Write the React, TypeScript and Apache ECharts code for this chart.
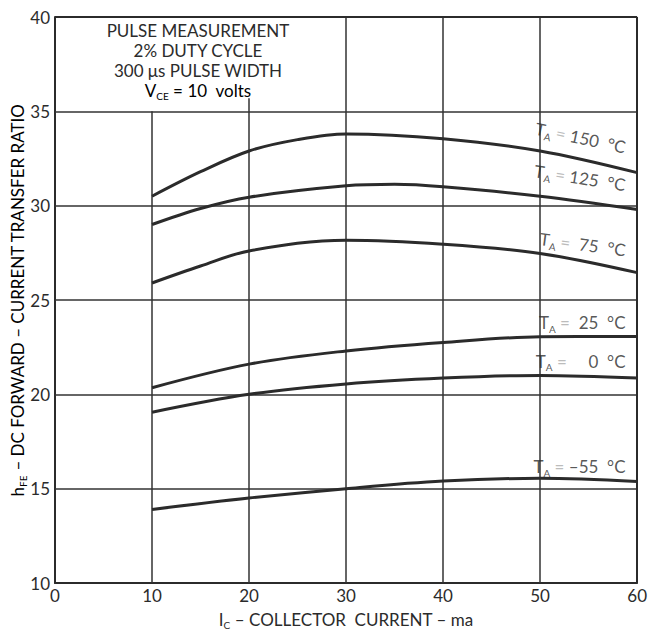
import { useEffect, useRef } from "react";
import * as echarts from "echarts";

// Axis ranges / ticks
const xMin = 0, xMax = 60, xStep = 10;
const yMin = 10, yMax = 40, yStep = 5;

// Curves: [Ic (ma), hFE]
const t150 = [[10, 30.5], [15, 31.8], [20, 32.9], [25, 33.5], [30, 33.8], [40, 33.55], [50, 32.9], [60, 31.75]];
const t125 = [[10, 29.0], [15, 29.85], [20, 30.45], [30, 31.05], [35, 31.13], [40, 31.0], [50, 30.5], [60, 29.8]];
const t75 = [[10, 25.9], [15, 26.8], [20, 27.6], [30, 28.17], [40, 27.96], [50, 27.47], [60, 26.45]];
const t25 = [[10, 20.35], [20, 21.6], [30, 22.3], [40, 22.75], [50, 23.05], [60, 23.07]];
const t0 = [[10, 19.05], [20, 20.0], [30, 20.55], [40, 20.86], [50, 21.0], [60, 20.86]];
const tm55 = [[10, 13.9], [20, 14.5], [30, 15.0], [40, 15.4], [50, 15.55], [60, 15.38]];
const curves = [t150, t125, t75, t25, t0, tm55];

// Curve labels
const labelTemps = ["150", "125", " 75", " 25", "    0", "–55"];
const labelAnchors = [[58.8, 33.1], [58.8, 31.1], [58.8, 27.65], [58.8, 23.8], [58.8, 21.75], [58.8, 16.15]];
const labelRot = [-12, -9, -7.5, 0, 0, 0];

// Conditions text
const noteLines = ["PULSE MEASUREMENT", "2% DUTY CYCLE", "300 μs PULSE WIDTH"];

// Grid line segments [[x1,y1],[x2,y2]]
const gridSegs = [
  [[0, 15], [60, 15]], [[0, 20], [60, 20]], [[0, 25], [60, 25]], [[0, 30], [60, 30]], [[0, 35], [60, 35]],
  [[10, 10], [10, 35]], [[20, 10], [20, 35.7]], [[30, 10], [30, 40]], [[40, 10], [40, 40]], [[50, 10], [50, 40]],
];
const borderSegs = [[[0, 40], [60, 40]], [[60, 10], [60, 40]]];

const FONT = "Lato, 'Noto Sans', sans-serif";
const INK = "#2b2b2b";

export default function App() {
  const ref = useRef<HTMLDivElement>(null);
  useEffect(() => {
    if (!ref.current) return;
    const chart = echarts.init(ref.current, undefined, { renderer: "svg" });
    const sub = { fontSize: 10, verticalAlign: "bottom", lineHeight: 14, fontFamily: FONT, color: INK };
    const norm = { fontSize: 17, lineHeight: 22, fontFamily: FONT, color: INK };

    const lineSeries = curves.map((d) => ({
      type: "line",
      data: d,
      smooth: 0.35,
      showSymbol: false,
      symbol: "none",
      lineStyle: { color: INK, width: 3 },
      silent: true,
      z: 5,
    }));

    const labelData = labelAnchors.map((p, i) => ({
      value: p,
      label: {
        show: true,
        position: "inside",
        align: "right",
        verticalAlign: "middle",
        rotate: labelRot[i],
        formatter: `{t|T}{s|A}{e| = }{t|${labelTemps[i]}  °C}`,
        rich: {
          t: { fontSize: 17, fontFamily: FONT, color: INK, lineHeight: 22 },
          s: { fontSize: 10, fontFamily: FONT, color: INK, verticalAlign: "bottom", lineHeight: 14 },
          e: { fontSize: 17, fontFamily: FONT, color: "#aaa", lineHeight: 22 },
        },
      },
    }));

    const option = {
      animation: false,
      backgroundColor: "#fff",
      grid: { left: 55, right: 10, top: 17, bottom: 47 },
      xAxis: {
        type: "value",
        min: xMin,
        max: xMax,
        interval: xStep,
        axisLine: { show: true, lineStyle: { color: INK, width: 2 } },
        axisTick: { show: false },
        splitLine: { show: false },
        axisLabel: { fontSize: 17, color: INK, fontFamily: FONT, margin: 4 },
        name: "{n|I}{s|C}{n| – COLLECTOR  CURRENT – ma}",
        nameLocation: "middle",
        nameGap: 25,
        nameTextStyle: { rich: { n: norm, s: sub } },
      },
      yAxis: {
        type: "value",
        min: yMin,
        max: yMax,
        interval: yStep,
        axisLine: { show: true, lineStyle: { color: INK, width: 2 } },
        axisTick: { show: false },
        splitLine: { show: false },
        axisLabel: { fontSize: 17, color: INK, fontFamily: FONT, margin: 5 },
      },
      graphic: [
        {
          type: "text",
          x: 17,
          y: 300,
          rotation: Math.PI / 2,
          style: {
            text: "{n|h}{s|FE}{n| – DC FORWARD – CURRENT TRANSFER RATIO}",
            align: "center",
            verticalAlign: "middle",
            rich: { n: { ...norm, fontSize: 17 }, s: sub },
          },
        },
        ...noteLines.map((t, i) => ({
          type: "text",
          x: 198,
          y: 30 + i * 20,
          style: { text: t, align: "center", verticalAlign: "middle", fontSize: 17, fontFamily: FONT, fill: INK },
        })),
        {
          type: "text",
          x: 198,
          y: 90,
          style: {
            text: "{n|V}{s|CE}{e| = }{n|10  volts}",
            align: "center",
            verticalAlign: "middle",
            rich: { n: norm, s: sub, e: { ...norm, color: "#999" } },
          },
        },
      ],
      series: [
        {
          type: "line",
          data: [],
          silent: true,
          markLine: {
            silent: true,
            symbol: ["none", "none"],
            label: { show: false },
            lineStyle: { color: "#333", width: 1.5, type: "solid" },
            data: [
              ...gridSegs.map((s) => [{ coord: s[0] }, { coord: s[1] }]),
              ...borderSegs.map((s) => [{ coord: s[0], lineStyle: { width: 2, color: INK } }, { coord: s[1] }]),
            ],
          },
        },
        ...lineSeries,
        {
          type: "scatter",
          symbolSize: 0,
          silent: true,
          data: labelData,
          z: 6,
        },
      ],
    };
    chart.setOption(option as any);
    return () => chart.dispose();
  }, []);
  return <div ref={ref} style={{ position: "absolute", left: 0, top: 0, width: 650, height: 635 }} />;
}
